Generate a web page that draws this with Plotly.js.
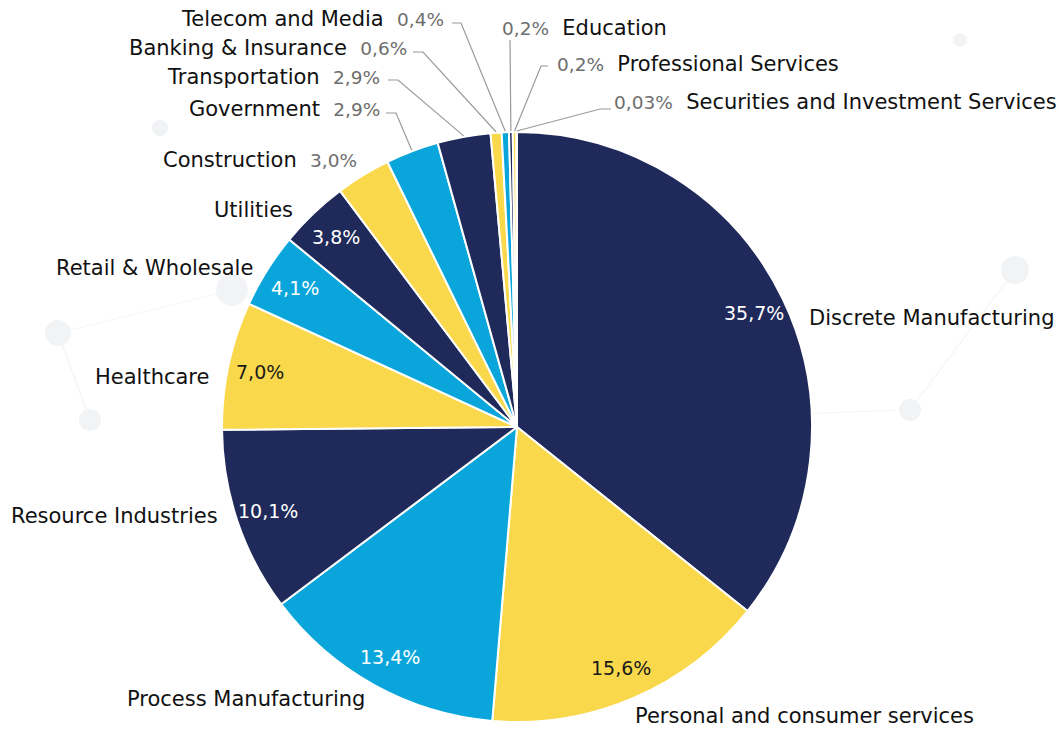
<!DOCTYPE html>
<html>
<head>
<meta charset="utf-8">
<script src="https://cdn.plot.ly/plotly-3.0.1.min.js"></script>
<style>
html,body{margin:0;padding:0;background:#fff;}
#chart{width:1059px;height:729px;}
</style>
</head>
<body>
<div id="chart"></div>
<script>
// ---------- data ----------
const categories = [
  "Discrete Manufacturing", "Personal and consumer services", "Process Manufacturing",
  "Resource Industries", "Healthcare", "Retail & Wholesale", "Utilities",
  "Construction", "Government", "Transportation", "Banking & Insurance",
  "Telecom and Media", "Education", "Professional Services",
  "Securities and Investment Services"
];
const shares = [35.7, 15.6, 13.4, 10.1, 7.0, 4.1, 3.8, 3.0, 2.9, 2.9, 0.6, 0.4, 0.2, 0.2, 0.03];

// ---------- style / layout ----------
const NAVY = "#1f2a5a", YELLOW = "#fad84c", BLUE = "#0aa6db";
const palette = [NAVY, YELLOW, BLUE];
const colors = categories.map((_, i) => palette[i % 3]);

const W = 1059, H = 729, CX = 517, CY = 427, R = 295;
const px = x => x / W, py = y => 1 - y / H;

// label placement: mode 'in' = percent inside slice, name outside
// 'outL' = "name pct" right-anchored, 'outR' = "pct name" left-anchored
const labelLayout = [
  {mode: "in", nx: 807, ny: 318, na: "left"},
  {mode: "in", nx: 633, ny: 716, na: "left"},
  {mode: "in", nx: 367, ny: 699, na: "right"},
  {mode: "in", nx: 220, ny: 516, na: "right"},
  {mode: "in", nx: 211, ny: 377, na: "right"},
  {mode: "in", nx: 255, ny: 268, na: "right"},
  {mode: "in", nx: 295, ny: 210, na: "right"},
  {mode: "outL", nx: 359, ny: 160},
  {mode: "outL", nx: 382, ny: 109, lead: [[386, 113], [396, 113]]},
  {mode: "outL", nx: 382, ny: 77, lead: [[388, 80], [398, 80]]},
  {mode: "outL", nx: 409, ny: 48, lead: [[413, 52], [423, 52]]},
  {mode: "outL", nx: 446, ny: 19, lead: [[452, 23], [461, 23]]},
  {mode: "outR", nx: 500, ny: 28, lead: [[510, 40]]},
  {mode: "outR", nx: 555, ny: 64, lead: [[548, 66], [541, 66]]},
  {mode: "outR", nx: 612, ny: 102, lead: [[611, 109], [600, 109]]}
];

// faint decorative background network (not data)
const bgNodes = [[1015, 270, 14], [232, 290, 16], [58, 333, 13], [90, 420, 11], [910, 410, 11], [160, 128, 8], [960, 40, 7], [300, 430, 7]];
const bgLinks = [[0, 4], [1, 2], [2, 3], [4, 7]];

const fmt = v => (v < 0.1 ? v.toFixed(2) : v.toFixed(1)).replace(".", ",") + "%";
const total = shares.reduce((a, b) => a + b, 0);

const FONT = "DejaVu Sans, Verdana, sans-serif";
const annotations = [];
const shapes = [];

bgLinks.forEach(l => {
  const a = bgNodes[l[0]], b = bgNodes[l[1]];
  shapes.push({type: "line", xref: "paper", yref: "paper", layer: "below",
    x0: px(a[0]), y0: py(a[1]), x1: px(b[0]), y1: py(b[1]),
    line: {color: "#f3f5f8", width: 1.2}});
});
bgNodes.forEach(n => {
  shapes.push({type: "circle", xref: "paper", yref: "paper", layer: "below",
    x0: px(n[0] - n[2]), x1: px(n[0] + n[2]), y0: py(n[1] + n[2]), y1: py(n[1] - n[2]),
    fillcolor: "#f2f3f5", line: {width: 0}});
});

let cum = 0;
shares.forEach((v, i) => {
  const mid = (cum + v / 2) / total * 2 * Math.PI;
  cum += v;
  const L = labelLayout[i];
  const pct = fmt(v);
  if (L.mode === "in") {
    const r = 0.89 * R;
    const x = CX + r * Math.sin(mid), y = CY - r * Math.cos(mid);
    annotations.push({
      xref: "paper", yref: "paper", x: px(x), y: py(y), showarrow: false,
      text: pct, xanchor: "center", yanchor: "middle",
      font: {family: FONT, size: 19, color: colors[i] === YELLOW ? "#1a1a1a" : "#ffffff"}
    });
    annotations.push({
      xref: "paper", yref: "paper", x: px(L.nx), y: py(L.ny), showarrow: false,
      text: categories[i], xanchor: L.na, yanchor: "middle",
      font: {family: FONT, size: 21, color: "#111111"}
    });
  } else {
    const grey = "<span style='color:#6e6e6e;font-size:18.5px'>" + pct + "</span>";
    const txt = L.mode === "outL" ? categories[i] + "  " + grey : grey + "  " + categories[i];
    annotations.push({
      xref: "paper", yref: "paper", x: px(L.nx), y: py(L.ny), showarrow: false,
      text: txt, xanchor: L.mode === "outL" ? "right" : "left", yanchor: "middle",
      font: {family: FONT, size: 21, color: "#111111"}
    });
    if (L.lead) {
      const ex = CX + (R + 1) * Math.sin(mid), ey = CY - (R + 1) * Math.cos(mid);
      const pts = L.lead.concat([[ex, ey]]);
      const path = pts.map((p, k) => (k ? "L" : "M") + px(p[0]) + "," + py(p[1])).join(" ");
      shapes.push({type: "path", xref: "paper", yref: "paper", path: path,
        line: {color: "#9a9a9a", width: 1.2}});
    }
  }
});

const trace = {
  type: "pie",
  labels: categories,
  values: shares,
  sort: false,
  direction: "clockwise",
  rotation: 0,
  textinfo: "none",
  hoverinfo: "label+percent",
  marker: {colors: colors, line: {color: "#ffffff", width: 2}},
  domain: {x: [px(CX - R), px(CX + R)], y: [py(CY + R), py(CY - R)]},
  showlegend: false
};

const layout = {
  width: W, height: H,
  margin: {l: 0, r: 0, t: 0, b: 0},
  paper_bgcolor: "#ffffff",
  plot_bgcolor: "rgba(0,0,0,0)",
  annotations: annotations,
  shapes: shapes,
  showlegend: false
};

Plotly.newPlot("chart", [trace], layout, {displayModeBar: false, staticPlot: true});
</script>
</body>
</html>
